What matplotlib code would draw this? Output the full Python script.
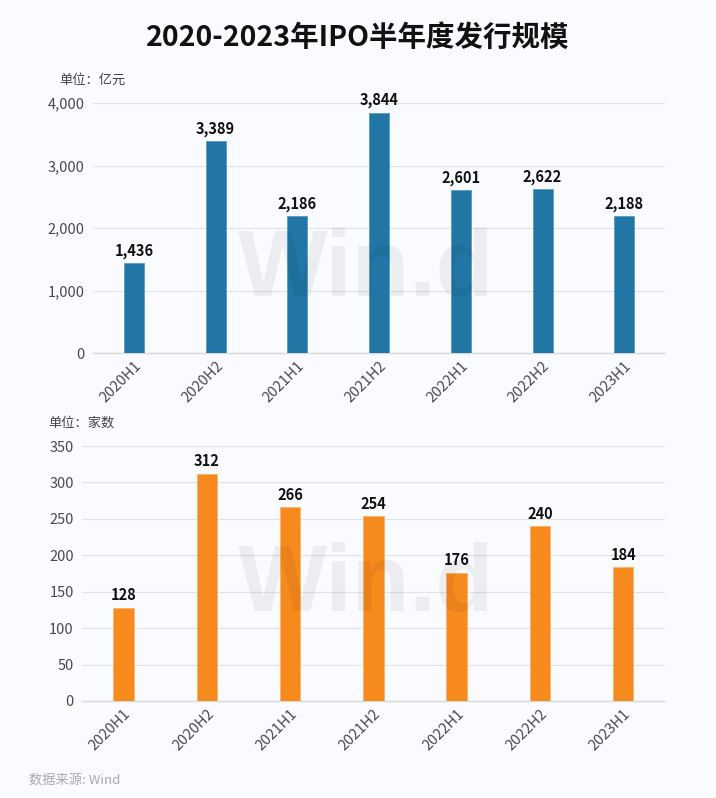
import matplotlib
matplotlib.use("Agg")
import matplotlib.pyplot as plt
from matplotlib.ticker import FuncFormatter

plt.rcParams['font.family'] = ['Noto Sans CJK SC', 'DejaVu Sans']

categories = ["2020H1", "2020H2", "2021H1", "2021H2", "2022H1", "2022H2", "2023H1"]
amount = [1436, 3389, 2186, 3844, 2601, 2622, 2188]
counts = [128, 312, 266, 254, 176, 240, 184]

title = "2020-2023年IPO半年度发行规模"
unit_top = "单位：亿元"
unit_bottom = "单位：家数"
source = "数据来源: Wind"

bg = "#f9fbfe"
blue = "#2176a5"
orange = "#f78a1c"
tick_color = "#4a4a4a"
grid_color = "#e3e3e3"

fig = plt.figure(figsize=(7.16, 7.98), dpi=100, facecolor=bg)

ax1 = fig.add_axes([0.130, 0.5576, 0.799, 0.3133], facecolor=bg)
ax2 = fig.add_axes([0.1145, 0.1216, 0.814, 0.3195], facecolor=bg)

def style(ax, ymax, step, fmt):
    ax.set_xlim(-0.5, len(categories) - 0.5)
    ax.set_ylim(0, ymax)
    ax.set_yticks(range(0, ymax + 1, step))
    ax.yaxis.set_major_formatter(FuncFormatter(fmt))
    ax.grid(axis='y', color=grid_color, linewidth=0.8)
    ax.set_axisbelow(True)
    for s in ['top', 'right', 'left']:
        ax.spines[s].set_visible(False)
    ax.spines['bottom'].set_color("#d8d8d8")
    ax.spines['bottom'].set_linewidth(1.0)
    ax.tick_params(axis='y', length=0, labelsize=10.5, labelcolor=tick_color, pad=6)
    ax.tick_params(axis='x', length=0, labelsize=10.5, labelcolor=tick_color, pad=4)
    ax.set_xticks(range(len(categories)))
    ax.set_xticklabels(categories, rotation=45, ha='right', rotation_mode='anchor')

style(ax1, 4000, 1000, lambda v, p: f"{int(v):,}")
style(ax2, 350, 50, lambda v, p: f"{int(v)}")

x = range(len(categories))
ax1.bar(x, amount, width=0.245, color=blue, edgecolor="#5a9cc2", linewidth=0.6, zorder=3)
ax2.bar(x, counts, width=0.245, color=orange, edgecolor="#fbb36e", linewidth=0.6, zorder=3)

for xi, v in zip(x, amount):
    ax1.text(xi, v + 70, f"{v:,}", ha='center', va='bottom', fontsize=10.5,
             fontweight='bold', color="#111111", zorder=4)
for xi, v in zip(x, counts):
    ax2.text(xi, v + 6, f"{v}", ha='center', va='bottom', fontsize=10.5,
             fontweight='bold', color="#111111", zorder=4)

# watermarks
for yb in (0.630, 0.236):
    fig.text(0.511, yb, "Win.d", ha='center', va='baseline', fontsize=68,
             fontweight='bold', color="#000000", alpha=0.055, family='Liberation Sans')

fig.text(0.5, 0.952, title, ha='center', va='center', fontsize=20.5,
         fontweight='bold', color="#111111")
fig.text(0.083, 0.900, unit_top, ha='left', va='center', fontsize=9.5, color="#444444")
fig.text(0.068, 0.470, unit_bottom, ha='left', va='center', fontsize=9.5, color="#444444")
fig.text(0.041, 0.023, source, ha='left', va='center', fontsize=9.5, color="#aaaaaa")

fig.savefig("out.png", dpi=100, facecolor=bg)
